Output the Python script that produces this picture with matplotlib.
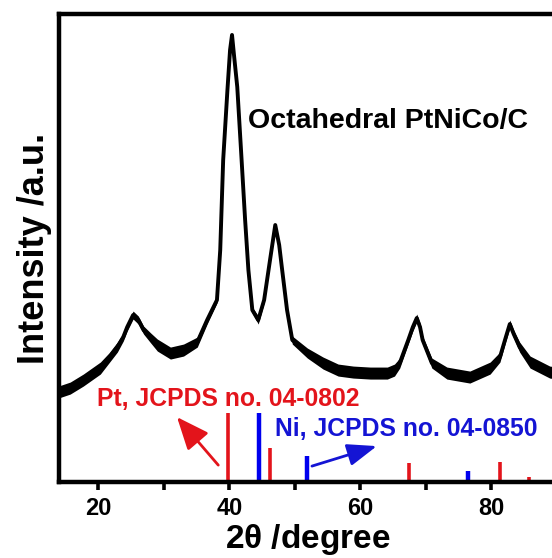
import numpy as np
import matplotlib
matplotlib.use("Agg")
import matplotlib.pyplot as plt

# XRD trace: 2theta (deg) and intensity (a.u.)
two_theta = [13.9, 15.7, 17.7, 19.0, 20.3, 21.6, 22.9, 23.8, 24.4, 25.3,
             26.1, 26.9, 28.0, 29.0, 31.0, 33.0, 35.1, 36.6, 38.1, 38.6,
             39.05, 39.7, 40.1, 40.4, 40.7, 41.2, 41.8, 42.4, 42.9, 43.5,
             44.4, 45.3, 46.2, 47.0, 47.6, 48.0, 48.8, 49.6, 51.9, 54.3,
             56.6, 58.9, 61.5, 64.1, 65.2, 66.0, 67.3, 68.0, 68.6, 69.1,
             69.5, 70.9, 73.2, 76.7, 79.8, 81.3, 82.2, 82.8, 83.4, 84.3,
             85.9, 88.9, 90.0]
intensity = [90, 94, 102, 108, 114, 124, 135, 145, 155, 167,
             162, 152, 144, 137, 129, 132, 140, 162, 182, 232,
             322, 392, 432, 447, 427, 395, 329, 262, 212, 172,
             162, 182, 222, 257, 237, 215, 172, 142, 129, 119,
             112, 110, 109, 109, 112, 119, 142, 155, 164, 155,
             142, 119, 109, 105, 114, 125, 145, 158, 148, 135,
             120, 110, 109]
# half width of the noisy band around the trace
noise = [6, 6, 6, 6, 6, 5, 5, 4, 4, 4,
         4, 4, 5, 6, 6, 6, 5, 4, 3, 2,
         1, 1, 1, 1, 1, 1, 1, 1, 2, 3,
         4, 3, 2, 2, 2, 2, 3, 4, 5, 6,
         6, 6, 6, 6, 6, 5, 4, 4, 4, 4,
         4, 5, 6, 6, 6, 5, 4, 4, 4, 5,
         6, 6, 6]

# reference patterns (JCPDS)
pt_pos = [39.76, 46.24, 67.45, 81.29, 85.71]
pt_height = [69, 34, 19, 20, 5]
ni_pos = [44.51, 51.85, 76.37]
ni_height = [69, 26, 11]

red = "#e3141b"
blue = "#1414d4"


def main():
    plt.rcParams["font.family"] = ["Liberation Sans", "DejaVu Sans"]
    plt.rcParams["font.weight"] = "bold"

    fig = plt.figure(figsize=(5.52, 5.58), dpi=100)
    ax = fig.add_axes([0.107, 0.136, 0.902, 0.839])

    x = np.array(two_theta)
    y = np.array(intensity)
    nz = np.array(noise)
    ax.fill_between(x, y - nz, y + nz, color="black", lw=0)
    ax.plot(x, y, color="black", lw=2.8, solid_joinstyle="round")

    ax.vlines(pt_pos, 0, pt_height, color=red, lw=2.6)
    ax.vlines(ni_pos, 0, ni_height, color="#0000ee", lw=3.2)

    ax.text(42.9, 361, "Octahedral PtNiCo/C", fontsize=20.5,
            fontweight="bold", va="center", ha="left")
    ax.text(19.85, 83, "Pt, JCPDS no. 04-0802", fontsize=17.8, color=red,
            fontweight="bold", va="center", ha="left")
    ax.text(47.0, 53, "Ni, JCPDS no. 04-0850", fontsize=17.8, color=blue,
            fontweight="bold", va="center", ha="left")

    ax.annotate("", xy=(32.0, 65), xytext=(38.3, 17),
                arrowprops=dict(arrowstyle="-|>,head_length=1.0,head_width=0.42",
                                mutation_scale=20, lw=2, color=red,
                                shrinkA=0, shrinkB=0))
    ax.annotate("", xy=(62.5, 36), xytext=(52.6, 16),
                arrowprops=dict(arrowstyle="-|>,head_length=0.9,head_width=0.34",
                                mutation_scale=20, lw=2, color=blue,
                                shrinkA=0, shrinkB=0))

    ax.set_xlim(14, 90)
    ax.set_ylim(0, 468)
    ax.set_xticks([20, 40, 60, 80])
    ax.set_xticks([30, 50, 70], minor=True)
    ax.set_yticks([])
    ax.tick_params(axis="x", which="both", direction="out", length=6, width=2.6,
                   labelsize=17, pad=5)
    for sp in ax.spines.values():
        sp.set_linewidth(3.2)

    ax.set_xlabel(r"2$\mathregular{\theta}$ /degree", fontsize=24,
                  fontweight="bold", labelpad=1)
    ax.set_ylabel("Intensity /a.u.", fontsize=26, fontweight="bold", labelpad=5)

    # no bbox_inches: figure size stays fixed, right spine falls off the edge
    fig.savefig("out.png", dpi=100)


if __name__ == "__main__":
    main()
